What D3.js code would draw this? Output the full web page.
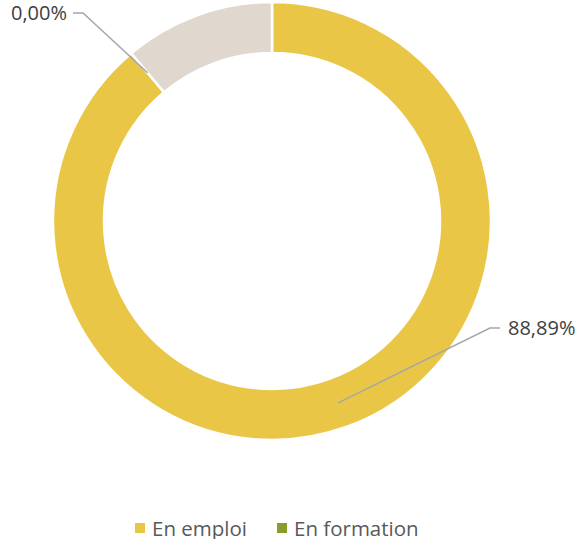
<!DOCTYPE html>
<html>
<head>
<meta charset="utf-8">
<script src="https://cdn.jsdelivr.net/npm/d3@7"></script>
<style>
  body { margin: 0; background: #fff; }
  svg { display: block; font-family: "Open Sans", "Noto Sans", sans-serif; }
</style>
</head>
<body>
<div id="chart"></div>
<script>
var width = 584, height = 539;

// data
var categories = ["En emploi", "En formation", "Autre"];
var values = [88.89, 0.00, 11.11];
var labels = ["88,89%", "0,00%", null];
var legendItems = ["En emploi", "En formation"];

var color = d3.scaleOrdinal()
    .domain(categories)
    .range(["#EAC646", "#8C9B2A", "#E0D7CE"]);

var cx = 272, cy = 221,
    outerR = 219, innerR = 168;

var svg = d3.select("#chart")
    .append("svg")
    .attr("width", width)
    .attr("height", height);

var g = svg.append("g")
    .attr("transform", "translate(" + cx + "," + cy + ")");

var pie = d3.pie()
    .sort(null)
    .value(function(d) { return d.value; });

var data = categories.map(function(c, i) { return {name: c, value: values[i], label: labels[i]}; });
var arcs = pie(data);

var arc = d3.arc().innerRadius(innerR).outerRadius(outerR);
var midArc = d3.arc().innerRadius((innerR + outerR) / 2).outerRadius((innerR + outerR) / 2);

g.selectAll("path.slice")
    .data(arcs)
    .enter()
    .append("path")
    .attr("class", "slice")
    .attr("d", arc)
    .style("fill", function(d) { return color(d.data.name); })
    .style("stroke", "#fff")
    .style("stroke-width", 2.5);

// leader lines + labels
var labelPos = {
    "En emploi": {elbow: [218, 107], end: [228, 107], anchor: "start"},
    "En formation": {elbow: [-189, -208], end: [-199, -208], anchor: "end"}
};

arcs.forEach(function(d) {
    if (!d.data.label) return;
    var p = midArc.centroid(d);
    var lp = labelPos[d.data.name];
    g.append("polyline")
        .attr("points", [p, lp.elbow, lp.end].map(function(q) { return q.join(","); }).join(" "))
        .style("fill", "none")
        .style("stroke", "#A6A6A6")
        .style("stroke-width", 1.5);
    g.append("text")
        .attr("x", lp.end[0] + (lp.anchor == "start" ? 8 : -6))
        .attr("y", lp.end[1] + 7)
        .attr("text-anchor", lp.anchor)
        .style("font-size", "20px")
        .style("fill", "#404040")
        .text(d.data.label);
});

// legend
var legendX = [135, 277];
var legend = svg.selectAll("g.legend")
    .data(legendItems)
    .enter()
    .append("g")
    .attr("class", "legend")
    .attr("transform", function(d, i) { return "translate(" + legendX[i] + ",528)"; });

legend.append("rect")
    .attr("x", 0)
    .attr("y", -5)
    .attr("width", 10)
    .attr("height", 10)
    .style("fill", function(d) { return color(d); });

legend.append("text")
    .attr("x", 17)
    .attr("y", 8)
    .style("font-size", "20.5px")
    .style("fill", "#595959")
    .text(function(d) { return d; });
</script>
</body>
</html>
